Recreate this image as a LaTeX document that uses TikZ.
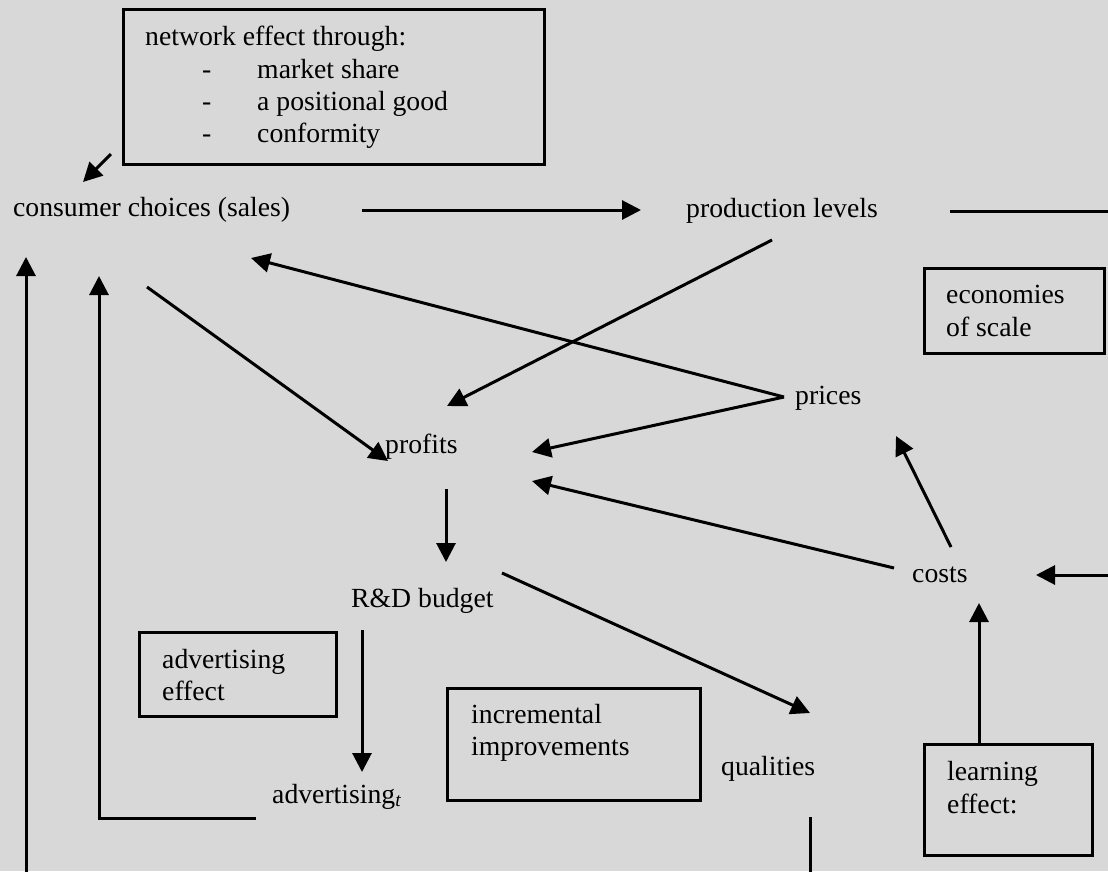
\documentclass[tikz,border=0pt]{standalone}
\usepackage{fontspec}
\setmainfont{Liberation Serif}
\usetikzlibrary{arrows.meta}
\definecolor{bgcol}{RGB}{216,216,216}
\begin{document}
\begin{tikzpicture}[x=1pt,y=-1pt,
 lbl/.style={anchor=base west, inner sep=0pt, font=\fontsize{27.7}{32}\selectfont},
 boxst/.style={draw, line width=2.6pt, inner sep=0pt, anchor=north west},
 conn/.style={line width=3pt},
 arr/.style={line width=3pt, -{Triangle[length=19pt,width=19pt]}}]
\useasboundingbox (0,0) rectangle (1108,871);
\fill[bgcol] (0,0) rectangle (1108,871);

% boxes
\node[boxst, minimum width=421pt, minimum height=155pt] (netbox) at (122,8) {};
\node[boxst, minimum width=180pt, minimum height=85pt] (ecobox) at (923,267) {};
\node[boxst, minimum width=197pt, minimum height=84pt] (advbox) at (138,631) {};
\node[boxst, minimum width=253pt, minimum height=112pt] (incbox) at (446,687) {};
\node[boxst, minimum width=168pt, minimum height=111pt] (lrnbox) at (923,743) {};

% box texts
\node[lbl] (nw1) at (145,45) {network effect through:};
\node[lbl] (nwd1) at (202,78) {-};
\node[lbl] (nw2) at (257,78) {market share};
\node[lbl] (nwd2) at (202,110) {-};
\node[lbl] (nw3) at (257,110) {a positional good};
\node[lbl] (nwd3) at (202,142) {-};
\node[lbl] (nw4) at (257,142) {conformity};
\node[lbl] (eco1) at (946,303) {economies};
\node[lbl] (eco2) at (946,336) {of scale};
\node[lbl] (adv1) at (162,668) {advertising};
\node[lbl] (adv2) at (162,700) {effect};
\node[lbl] (inc1) at (471,723) {incremental};
\node[lbl] (inc2) at (471,755) {improvements};
\node[lbl] (lrn1) at (947,780) {learning};
\node[lbl] (lrn2) at (947,813) {effect:};

% main labels
\node[lbl] (cc) at (13,216) {consumer choices (sales)};
\node[lbl] (pl) at (686,217) {production levels};
\node[lbl] (pr) at (795,404) {prices};
\node[lbl] (pf) at (385,453) {profits};
\node[lbl] (co) at (912,582) {costs};
\node[lbl] (rd) at (351,607) {R\&D budget};
\node[lbl] (ad) at (272,803) {advertising\textsubscript{\textit{t}}};
\node[lbl] (ql) at (721,775) {qualities};

% connector coordinates
\coordinate (nwA) at (111,154);
\coordinate (ccNW) at (83,182);
\coordinate (ccR) at (362,210);
\coordinate (plL) at (641,210);
\coordinate (plR) at (950,211);
\coordinate (edgeR1) at (1112,211);
\coordinate (plD) at (772,240);
\coordinate (pfT) at (447,406);
\coordinate (prP) at (784,397);
\coordinate (ccB) at (251,258);
\coordinate (ccD) at (147,287);
\coordinate (pfL) at (388,461);
\coordinate (pfR1) at (532,452);
\coordinate (coP) at (894,568);
\coordinate (pfR2) at (532,481);
\coordinate (coU) at (951,547);
\coordinate (prB) at (896,436);
\coordinate (edgeR2) at (1112,575);
\coordinate (coR) at (1036,575);
\coordinate (pfB) at (446,489);
\coordinate (rdT) at (446,562);
\coordinate (rdR) at (502,573);
\coordinate (qlT) at (810,713);
\coordinate (rdB) at (362,630);
\coordinate (adT) at (362,772);
\coordinate (adL) at (256,818);
\coordinate (corner) at (99,818);
\coordinate (ccB2) at (99,276);
\coordinate (qlB) at (810,817);
\coordinate (edgeB1) at (810,875);
\coordinate (lrnT) at (979,743);
\coordinate (coB) at (979,603);
\coordinate (edgeB2) at (26,875);
\coordinate (ccB3) at (26,257);

% connectors
\draw[arr] (nwA) -- (ccNW);
\draw[arr] (ccR) -- (plL);
\draw[conn] (plR) -- (edgeR1);
\draw[arr] (plD) -- (pfT);
\draw[arr] (prP) -- (ccB);
\draw[arr] (ccD) -- (pfL);
\draw[arr] (prP) -- (pfR1);
\draw[arr] (coP) -- (pfR2);
\draw[arr] (coU) -- (prB);
\draw[arr] (edgeR2) -- (coR);
\draw[arr] (pfB) -- (rdT);
\draw[arr] (rdR) -- (qlT);
\draw[arr] (rdB) -- (adT);
\draw[arr] (adL) -- (corner) -- (ccB2);
\draw[conn] (qlB) -- (edgeB1);
\draw[arr] (lrnT) -- (coB);
\draw[arr] (edgeB2) -- (ccB3);
\end{tikzpicture}
\end{document}
